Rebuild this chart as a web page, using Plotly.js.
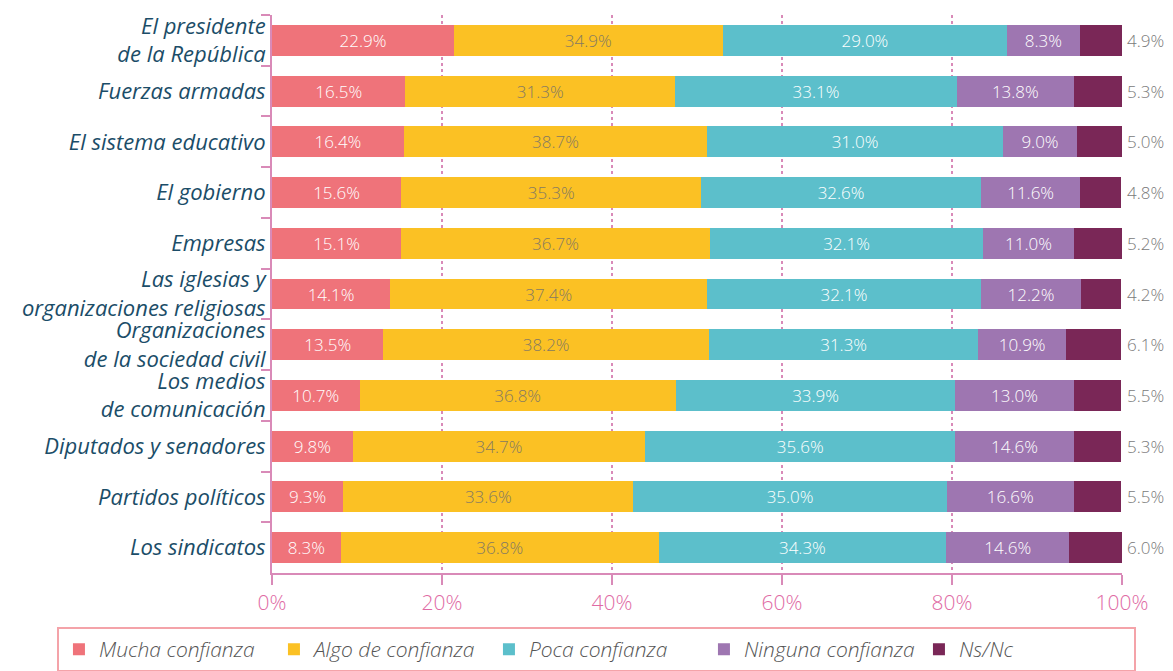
<!DOCTYPE html>
<html>
<head>
<meta charset="utf-8">
<script src="https://cdn.plot.ly/plotly-3.0.1.min.js"></script>
<style>html,body{margin:0;padding:0;background:#fff;}#chart{width:1173px;height:671px;}</style>
</head>
<body>
<div id="chart"></div>
<script>
// Categories (top to bottom)
const categories = [
  "El presidente<br>de la República",
  "Fuerzas armadas",
  "El sistema educativo",
  "El gobierno",
  "Empresas",
  "Las iglesias y<br>organizaciones religiosas",
  "Organizaciones<br>de la sociedad civil",
  "Los medios<br>de comunicación",
  "Diputados y senadores",
  "Partidos políticos",
  "Los sindicatos"
];
const seriesNames = ["Mucha confianza", "Algo de confianza", "Poca confianza", "Ninguna confianza", "Ns/Nc"];

// Printed value labels (as written in the chart)
const muchaLabel   = [22.9, 16.5, 16.4, 15.6, 15.1, 14.1, 13.5, 10.7, 9.8, 9.3, 8.3];
const algoLabel    = [34.9, 31.3, 38.7, 35.3, 36.7, 37.4, 38.2, 36.8, 34.7, 33.6, 36.8];
const pocaLabel    = [29.0, 33.1, 31.0, 32.6, 32.1, 32.1, 31.3, 33.9, 35.6, 35.0, 34.3];
const ningunaLabel = [8.3, 13.8, 9.0, 11.6, 11.0, 12.2, 10.9, 13.0, 14.6, 16.6, 14.6];
const nsncLabel    = [4.9, 5.3, 5.0, 4.8, 5.2, 4.2, 6.1, 5.5, 5.3, 5.5, 6.0];

// Segment lengths as drawn in the picture
const muchaBar   = [21.4, 15.7, 15.5, 15.2, 15.2, 13.9, 13.1, 10.3, 9.5, 8.4, 8.1];
const algoBar    = [31.6, 31.7, 35.7, 35.3, 36.3, 37.3, 38.3, 37.2, 34.4, 34.1, 37.4];
const pocaBar    = [33.5, 33.2, 34.8, 32.9, 32.2, 32.2, 31.7, 32.9, 36.5, 36.9, 33.8];
const ningunaBar = [8.5, 13.7, 8.7, 11.7, 10.6, 11.8, 10.3, 13.9, 13.9, 14.9, 14.5];
const nsncBar    = [5.0, 5.7, 5.3, 4.8, 5.7, 4.7, 6.5, 5.6, 5.6, 5.6, 6.2];

const xTickVals = [0, 20, 40, 60, 80, 100];
const xTickText = ["0%", "20%", "40%", "60%", "80%", "100%"];

const bars = [muchaBar, algoBar, pocaBar, ningunaBar, nsncBar];
const labels = [muchaLabel, algoLabel, pocaLabel, ningunaLabel, nsncLabel];
const colors = ["#ef737a", "#fbc124", "#5cbfcb", "#9e76b1", "#7a2757"];
const textColors = ["#ffffff", "#857a62", "#ffffff", "#ffffff", "#7a7a7a"];
const FONT = "'Open Sans', Lato, sans-serif";
const fmt = d => d.toFixed(1) + "%";

const traces = bars.map((v, i) => ({
  type: "bar",
  orientation: "h",
  name: seriesNames[i],
  y: categories,
  x: v,
  marker: { color: colors[i], line: { width: 0 } },
  text: i < 4 ? labels[i].map(fmt) : undefined,
  textposition: i < 4 ? "inside" : "none",
  insidetextanchor: "middle",
  constraintext: "none",
  textfont: { family: FONT, size: 17, color: textColors[i], weight: 300 },
  hoverinfo: "name+x"
}));

// Ns/Nc values printed to the right of each bar (anchored at the axis end)
const annotations = categories.map((c, k) => ({
  x: xTickVals[xTickVals.length - 1],
  y: c,
  xref: "x",
  yref: "y",
  text: fmt(nsncLabel[k]),
  showarrow: false,
  xanchor: "left",
  xshift: 3,
  font: { family: FONT, size: 17, color: "#7a7a7a", weight: 300 }
}));

const layout = {
  width: 1173,
  height: 671,
  margin: { l: 272, r: 51, t: 15, b: 98, autoexpand: false },
  paper_bgcolor: "#ffffff",
  plot_bgcolor: "#ffffff",
  barmode: "stack",
  bargap: 0.39,
  font: { family: FONT },
  annotations: annotations,
  xaxis: {
    range: [0, 100],
    tickvals: xTickVals,
    ticktext: xTickText,
    tickfont: { family: FONT, size: 21, color: "#e06aa4", weight: 300 },
    showline: true,
    linecolor: "#d98ab8",
    linewidth: 2,
    ticks: "outside",
    ticklen: 10,
    tickwidth: 2,
    tickcolor: "#d98ab8",
    showgrid: true,
    gridcolor: "#d98ab8",
    griddash: "dot",
    gridwidth: 2,
    zeroline: false,
    fixedrange: true
  },
  yaxis: {
    autorange: "reversed",
    type: "category",
    tickson: "boundaries",
    ticks: "outside",
    ticklen: 9,
    tickwidth: 2,
    tickcolor: "#d98ab8",
    showline: true,
    linecolor: "#d98ab8",
    linewidth: 2,
    showgrid: false,
    tickfont: { family: FONT, size: 22, color: "#1b4d68", style: "italic", weight: 400 },
    fixedrange: true
  },
  showlegend: true,
  legend: {
    orientation: "h",
    x: -0.253,
    xanchor: "left",
    y: -0.097,
    yanchor: "top",
    bordercolor: "#f4a3a9",
    borderwidth: 2,
    bgcolor: "#ffffff",
    font: { family: FONT, size: 21, color: "#555555", style: "italic", weight: 300 },
    traceorder: "normal",
    itemwidth: 30,
    entrywidth: 170
  }
};

Plotly.newPlot("chart", traces, layout, { displayModeBar: false, staticPlot: true });
</script>
</body>
</html>
